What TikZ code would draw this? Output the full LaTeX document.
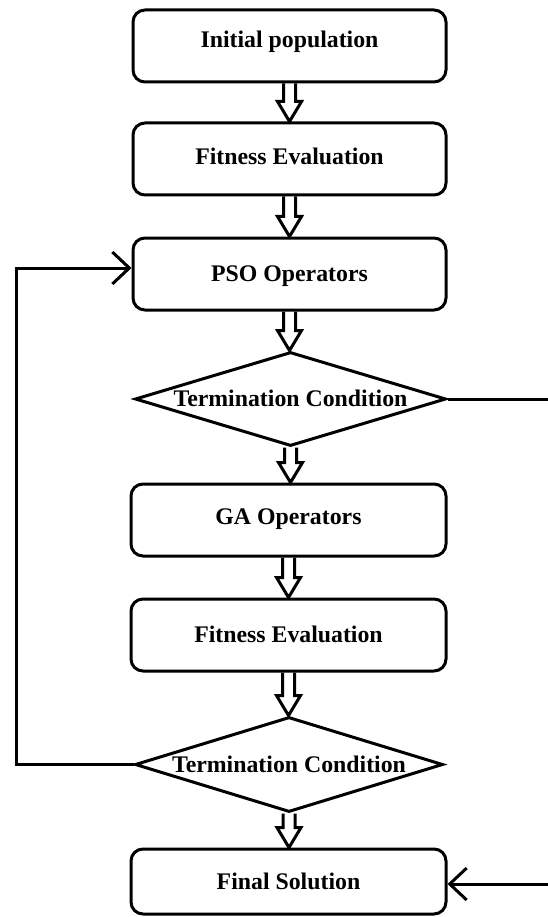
\documentclass[tikz,border=0pt]{standalone}
\usepackage{fontspec}
\setmainfont{Liberation Serif}
\usetikzlibrary{shapes.geometric,arrows.meta,calc}
\tikzset{
  lbl/.style={font=\fontsize{23.8}{28}\selectfont\bfseries, text height=15pt, text depth=0pt},
  box/.style={draw, line width=3pt, rounded corners=12pt, inner sep=0pt, minimum width=313pt, minimum height=72pt, lbl},
  dia/.style={draw, diamond, aspect=3.3, line width=3pt, inner sep=0pt, minimum width=311pt, minimum height=94pt, lbl},
  harrow/.style={line width=3pt, line join=miter},
  conn/.style={line width=3pt},
  barb/.style={-{Straight Barb[length=17pt,width=32pt]}}
}
\newcommand{\hollowarrow}[2]{%
  \draw[harrow] let \p1=(#1.south), \p2=(#2.north) in
    (\x1-6pt,\y1) -- (\x1-6pt,\y2+20pt) -- (\x1-12pt,\y2+20pt) -- (\x1,\y2)
    -- (\x1+12pt,\y2+20pt) -- (\x1+6pt,\y2+20pt) -- (\x1+6pt,\y1);}
\begin{document}
\begin{tikzpicture}[x=1pt,y=-1pt]
\useasboundingbox (0,0) rectangle (548,917);
\node[box, text depth=12pt] (b1) at (289.5,46) {Initial population};
\node[box, text depth=3pt] (b2) at (289.5,159) {Fitness Evaluation};
\node[box] (pso) at (289.5,274) {PSO Operators};
\node[dia] (d1) at (290.5,399) {Termination Condition};
\node[box, minimum width=315pt, text depth=6pt] (ga) at (288.5,520) {GA Operators};
\node[box, minimum width=315pt] (f2) at (288.5,635) {Fitness Evaluation};
\node[dia, minimum width=308pt, minimum height=95pt] (d2) at (289,764.5) {Termination Condition};
\node[box, minimum width=315pt, minimum height=65pt] (fin) at (288.5,881.5) {Final Solution};
\hollowarrow{b1}{b2}
\hollowarrow{b2}{pso}
\hollowarrow{pso}{d1}
\hollowarrow{d1}{ga}
\hollowarrow{ga}{f2}
\hollowarrow{f2}{d2}
\hollowarrow{d2}{fin}
\coordinate (loopc) at (16.5,500);
\draw[conn, barb] (d2.west) -| (loopc) |- ($(pso.west)+(0,-6)$);
\coordinate (re) at (548,399);
\draw[conn] (d1.east) -- (re);
\coordinate (fe) at (548,884);
\draw[conn, barb] (fe) -- (fe -| fin.east);
\end{tikzpicture}
\end{document}
